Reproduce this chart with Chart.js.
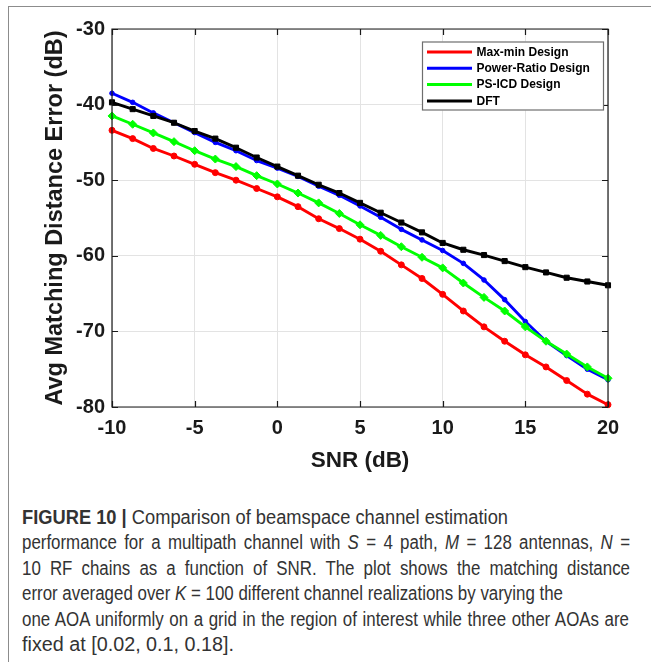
<!DOCTYPE html>
<html><head><meta charset="utf-8">
<script src="https://cdn.jsdelivr.net/npm/chart.js@4.4.1/dist/chart.umd.min.js"></script>
<style>
html,body{margin:0;padding:0;background:#fff;}
body{width:651px;height:662px;position:relative;overflow:hidden;}
#frame{position:absolute;left:8px;top:6px;width:660px;height:680px;border-left:1px solid #8c8c8c;border-top:1px solid #8c8c8c;}
#wrap{position:absolute;left:0;top:0;width:651px;height:490px;}
#cap{position:absolute;left:22px;top:505px;font-family:"Liberation Sans",Arial,sans-serif;font-size:19.5px;line-height:25.4px;color:#333;}
#cap div{white-space:nowrap;transform-origin:0 0;}
</style></head><body>
<div id="frame"></div>
<div id="wrap"><canvas id="c" width="651" height="490"></canvas></div>
<div id="cap">
<div data-w="486"><span><b>FIGURE 10 |</b> Comparison of beamspace channel estimation</span></div>
<div data-w="608" class="j"><span>performance for a multipath channel with <i>S</i> = 4 path, <i>M</i> = 128 antennas, <i>N</i> =</span></div>
<div data-w="608" class="j"><span>10 RF chains as a function of SNR. The plot shows the matching distance</span></div>
<div data-w="541"><span>error averaged over <i>K</i> = 100 different channel realizations by varying the</span></div>
<div data-w="607" class="j"><span>one AOA uniformly on a grid in the region of interest while three other AOAs are</span></div>
<div data-w="212"><span>fixed at [0.02, 0.1, 0.18].</span></div>
</div>
<script>
const snr = [-10, -8.75, -7.5, -6.25, -5, -3.75, -2.5, -1.25, 0, 1.25, 2.5, 3.75, 5, 6.25, 7.5, 8.75, 10, 11.25, 12.5, 13.75, 15, 16.25, 17.5, 18.75, 20];
const maxMin = [-43.4, -44.5, -45.8, -46.8, -47.9, -49.0, -50.0, -51.1, -52.2, -53.5, -55.1, -56.4, -57.8, -59.4, -61.2, -63.0, -65.1, -67.3, -69.4, -71.3, -73.1, -74.7, -76.5, -78.3, -79.7];
const powerRatio = [-38.5, -39.7, -41.1, -42.4, -43.7, -45.0, -46.1, -47.4, -48.4, -49.5, -50.8, -52.0, -53.4, -54.9, -56.5, -57.9, -59.3, -61.0, -63.2, -65.8, -68.7, -71.3, -73.2, -75.0, -76.4];
const psIcd = [-41.5, -42.6, -43.75, -44.9, -46.1, -47.2, -48.2, -49.4, -50.5, -51.7, -53.0, -54.4, -55.9, -57.3, -58.8, -60.2, -61.6, -63.6, -65.5, -67.3, -69.4, -71.3, -73.0, -74.7, -76.2];
const dft = [-39.7, -40.6, -41.5, -42.4, -43.5, -44.5, -45.7, -47.0, -48.2, -49.4, -50.6, -51.7, -53.0, -54.3, -55.6, -56.9, -58.3, -59.2, -59.9, -60.7, -61.5, -62.2, -62.9, -63.4, -63.9];
const seriesNames = ['Max-min Design', 'Power-Ratio Design', 'PS-ICD Design', 'DFT'];
const xTickValues = [-10, -5, 0, 5, 10, 15, 20];
const yTickValues = [-80, -70, -60, -50, -40, -30];
const xTitle = 'SNR (dB)';
const yTitle = 'Avg Matching Distance Error (dB)';

function pts(ys) { return snr.map((x, i) => ({x: x, y: ys[i]})); }

const styles = [
  {color: '#ff0000', pointStyle: 'circle', radius: 3, order: 3},
  {color: '#0000ff', pointStyle: 'circle', radius: 2.3, order: 2},
  {color: '#00ff00', pointStyle: 'rectRot', radius: 4, order: 1},
  {color: '#000000', pointStyle: 'rect', radius: 3.6, order: 0}
];
const seriesData = [maxMin, powerRatio, psIcd, dft];

const datasets = seriesData.map((d, i) => ({
  label: seriesNames[i],
  data: pts(d),
  borderColor: styles[i].color,
  backgroundColor: styles[i].color,
  borderWidth: 2.9,
  pointStyle: styles[i].pointStyle,
  pointRadius: styles[i].radius,
  pointBorderWidth: 1,
  pointBorderColor: styles[i].color,
  pointBackgroundColor: styles[i].color,
  tension: 0,
  order: styles[i].order,
  clip: false
}));

const boxPlugin = {
  id: 'boxTicks',
  afterDatasetsDraw(chart) {
    const ctx = chart.ctx, a = chart.chartArea;
    const xs = chart.scales.x, ys = chart.scales.y;
    ctx.save();
    ctx.strokeStyle = '#1a1a1a';
    ctx.lineWidth = 1.2;
    ctx.beginPath();
    ctx.rect(a.left, a.top, a.right - a.left, a.bottom - a.top);
    ctx.stroke();
    const tl = 6;
    ctx.beginPath();
    xTickValues.forEach(v => {
      const px = Math.round(xs.getPixelForValue(v)) + 0.5;
      ctx.moveTo(px, a.bottom); ctx.lineTo(px, a.bottom - tl);
      ctx.moveTo(px, a.top); ctx.lineTo(px, a.top + tl);
    });
    yTickValues.forEach(v => {
      const py = Math.round(ys.getPixelForValue(v)) + 0.5;
      ctx.moveTo(a.left, py); ctx.lineTo(a.left + tl, py);
      ctx.moveTo(a.right, py); ctx.lineTo(a.right - tl, py);
    });
    ctx.stroke();
    ctx.restore();
  },
  afterDraw(chart) {
    const ctx = chart.ctx, a = chart.chartArea;
    const w = 182, h = 69;
    const bx = a.right - 4 - w, by = a.top + 12.5;
    ctx.save();
    ctx.fillStyle = '#fff';
    ctx.fillRect(bx, by, w, h);
    ctx.strokeStyle = '#6e6e6e';
    ctx.lineWidth = 1.2;
    ctx.strokeRect(bx + 0.5, by + 0.5, w - 1, h - 1);
    ctx.font = 'bold 12px "Liberation Sans", Arial, sans-serif';
    ctx.textBaseline = 'middle';
    ctx.textAlign = 'left';
    chart.data.datasets.forEach((ds, i) => {
      const y = by + 10.5 + i * 16.3;
      ctx.strokeStyle = ds.borderColor;
      ctx.lineWidth = 3;
      ctx.beginPath();
      ctx.moveTo(bx + 5, y); ctx.lineTo(bx + 50, y);
      ctx.stroke();
      ctx.fillStyle = ds.borderColor;
      Chart.helpers.drawPoint(ctx, {pointStyle: ds.pointStyle, rotation: 0, borderWidth: 1}, bx + 27.5, y);
      ctx.fill();
      ctx.fillStyle = '#000';
      ctx.fillText(ds.label, bx + 54.5, y + 0.5);
    });
    ctx.restore();
  }
};

new Chart(document.getElementById('c'), {
  type: 'line',
  data: {datasets: datasets},
  options: {
    responsive: false,
    animation: false,
    devicePixelRatio: 1,
    layout: {padding: {top: 29, right: 43, left: 0, bottom: 0}},
    plugins: {legend: {display: false}, tooltip: {enabled: false}},
    elements: {line: {borderJoinStyle: 'round', borderCapStyle: 'round'}},
    scales: {
      x: {
        type: 'linear', min: -10, max: 20,
        afterBuildTicks: s => { s.ticks = xTickValues.map(v => ({value: v})); },
        afterFit: s => { s.height = 83; },
        grid: {color: '#e3e3e3', lineWidth: 1, drawTicks: false},
        border: {display: false},
        ticks: {padding: 9, color: '#1a1a1a', maxRotation: 0, font: {family: '"Liberation Sans", Arial, sans-serif', size: 20, weight: 'bold'}},
        title: {display: true, text: xTitle, color: '#1a1a1a', padding: {top: 0, bottom: 16}, font: {family: '"Liberation Sans", Arial, sans-serif', size: 22.5, weight: 'bold'}}
      },
      y: {
        type: 'linear', min: -80, max: -30,
        afterBuildTicks: s => { s.ticks = yTickValues.map(v => ({value: v})); },
        afterFit: s => { s.width = 112; },
        grid: {color: '#e3e3e3', lineWidth: 1, drawTicks: false},
        border: {display: false},
        ticks: {padding: 7, color: '#1a1a1a', font: {family: '"Liberation Sans", Arial, sans-serif', size: 20, weight: 'bold'}},
        title: {display: true, text: yTitle, color: '#1a1a1a', padding: {top: 41.5, bottom: 0}, font: {family: '"Liberation Sans", Arial, sans-serif', size: 23.5, weight: 'bold'}}
      }
    }
  },
  plugins: [boxPlugin]
});

(function fitCaption() {
  const cap = document.getElementById('cap');
  const lines = Array.from(cap.children);
  const s0 = 541 / lines[3].firstElementChild.getBoundingClientRect().width;
  lines.forEach(l => {
    const sp = l.firstElementChild;
    const target = parseFloat(l.dataset.w);
    const nat = sp.getBoundingClientRect().width;
    if (l.classList.contains('j')) {
      const n = (sp.textContent.match(/ /g) || []).length;
      if (n > 0) sp.style.wordSpacing = ((target / s0 - nat) / n) + 'px';
      l.style.transform = 'scaleX(' + s0 + ')';
    } else {
      l.style.transform = 'scaleX(' + (target / nat) + ')';
    }
  });
})();
</script>
</body></html>
